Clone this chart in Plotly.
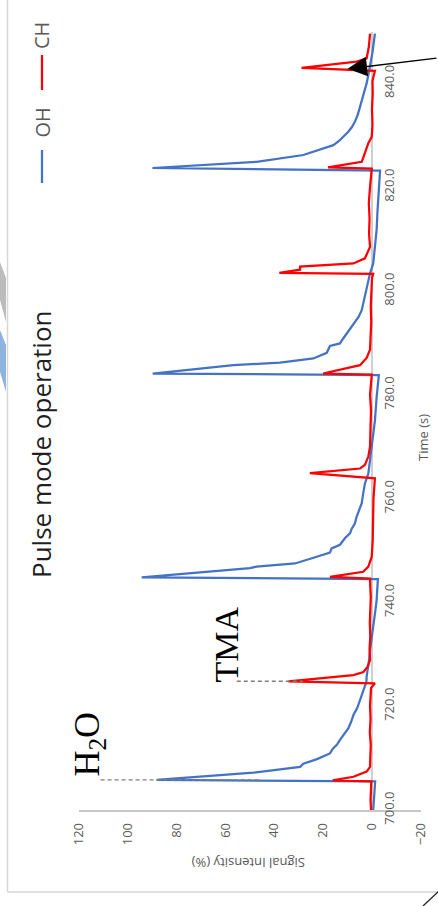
import plotly.graph_objects as go

# ---- measured signals (time in s, intensity in %) ----
oh_time = [
    700.0, 701.5, 703.0, 704.5, 705.5, 705.8, 707.2, 708.3, 708.9, 709.8,
    710.9, 711.8, 712.6, 713.5, 714.6, 715.7, 716.9, 718.3, 719.7, 721.2,
    722.4, 723.8, 724.7, 725.7, 727.5, 729.2, 730.8, 733.0, 735.3, 737.8,
    740.5, 742.8, 744.5, 744.8, 746.6, 746.9, 747.5, 748.8, 749.6, 750.4,
    751.1, 752.4, 753.3, 754.2, 755.2, 756.5, 758.1, 759.1, 761.0, 762.9,
    764.8, 767.4, 771.3, 775.0, 779.6, 783.2, 783.8,
    784.1, 785.7, 786.0, 786.2, 787.0, 788.1, 789.4, 789.9, 790.9, 791.8,
    792.8, 793.8, 795.0, 796.3, 797.6, 798.9, 800.2, 801.5, 803.4, 805.3,
    808.5, 811.8, 815.0, 818.2, 821.0, 823.2, 823.7, 824.9, 826.2, 826.8,
    827.4, 828.1, 828.9, 829.7, 830.7, 831.6, 832.6, 834.0, 835.5, 837.4,
    838.7, 840.0, 841.6, 843.2, 846.0, 849.6,
]
oh_signal = [
    -0.5, -0.7, -0.9, -1.1, -1.3, 88.1, 48.5, 29.4, 28.1, 22.5,
    17.2, 16.0, 14.3, 13.1, 11.3, 9.7, 8.6, 7.6, 6.0, 4.9,
    3.9, 2.9, 2.3, 2.2, 1.5, 1.1, 0.8, 0.1, -0.5, -1.2,
    -1.9, -2.2, -2.4, 94.2, 49.9, 47.2, 31.5, 22.6, 17.2, 16.5,
    13.1, 11.0, 9.0, 8.3, 7.0, 6.3, 4.9, 4.2, 3.6, 2.9,
    1.5, 0.8, -0.5, -1.2, -1.9, -2.6, -2.8,
    89.7, 56.7, 45.0, 37.6, 24.0, 18.5, 17.2, 13.1, 11.7, 10.3,
    8.6, 7.0, 5.5, 4.2, 3.6, 2.9, 2.1, 1.5, 0.8, -0.5,
    -1.2, -1.9, -2.2, -2.6, -3.0, -3.3, 89.8, 47.2, 28.1, 24.0,
    20.0, 15.8, 13.5, 11.7, 9.7, 8.2, 7.0, 5.8, 4.9, 3.6,
    2.9, 2.2, 1.5, 0.8, -0.2, -1.2,
]

ch_time = [
    700.0, 702.0, 704.0, 705.5, 705.7, 706.4, 707.4, 708.3, 710.0, 712.5,
    715.0, 717.5, 720.0, 722.0, 723.5, 724.4, 724.8, 726.0, 726.6, 727.6,
    728.9, 731.0, 733.5, 736.0, 738.5, 741.0, 743.0, 744.6, 744.9, 745.9,
    746.9, 748.8, 752.0, 756.0, 760.0, 763.9, 764.9,
    765.8, 766.5, 768.1, 770.0, 774.0, 777.0, 780.0, 782.5, 783.9, 784.1,
    785.7, 787.1, 788.7, 791.0, 794.0, 797.0, 800.0, 802.5, 803.3, 803.5,
    804.1, 804.7, 805.3, 806.3, 808.5, 811.0, 814.0, 817.0, 820.0, 822.5,
    823.6, 823.8, 824.9, 825.8, 827.8, 828.5, 829.7, 832.0, 835.0, 838.0,
    840.5, 842.4, 843.0, 844.2, 844.8, 847.0, 849.6,
]
ch_signal = [
    0.4, 0.6, 0.4, 0.3, 16.1, 7.6, 2.2, 0.8, 0.7, 0.5,
    0.9, 0.6, 0.8, 0.5, 0.4, -1.2, 34.2, 7.6, 3.5, 1.8,
    0.8, 1.0, 0.7, 0.9, 0.6, 0.5, 0.7, 0.8, 17.2, 3.6,
    1.5, 0.1, -0.3, -0.5, -0.6, -1.2, 25.4,
    4.9, 2.9, 1.5, 0.8, 0.6, 0.4, 0.8, 0.5, 0.1, 20.0,
    4.9, 2.2, 0.8, 0.6, 0.3, 0.5, 0.2, 0.0, -0.5, 37.9,
    29.4, 29.4, 7.6, 2.9, 0.8, 1.2, 1.0, 1.3, 0.8, 0.5,
    0.1, 18.0, 4.2, 3.5, 2.2, 1.5, 0.1, -0.2, 0.0, -0.3,
    -0.2, -1.2, 28.8, 6.3, 2.2, 1.3, 0.8,
]

time_ticks = [700, 720, 740, 760, 780, 800, 820, 840]
signal_ticks = [120, 100, 80, 60, 40, 20, 0, -20]

OH_COLOR = "#4472C4"
CH_COLOR = "#FF0000"
GREY_TEXT = "#595959"

W, H = 438, 906


def px(x):
    return x / W


def py(y):
    return 1 - y / H


def peak(times, values, t_lo, t_hi):
    """Time and value of the highest point between t_lo and t_hi."""
    pts = [(v, t) for t, v in zip(times, values) if t_lo <= t <= t_hi]
    v, t = max(pts)
    return t, v


fig = go.Figure()
fig.add_trace(go.Scatter(x=oh_signal, y=oh_time, mode="lines", name="OH",
                         line=dict(color=OH_COLOR, width=2.25)))
fig.add_trace(go.Scatter(x=ch_signal, y=ch_time, mode="lines", name="CH",
                         line=dict(color=CH_COLOR, width=2.25)))

# pulses that the labels point at
h2o_t, h2o_v = peak(oh_time, oh_signal, 700, 715)
tma_t, tma_v = peak(ch_time, ch_signal, 720, 735)
last_t, last_v = peak(ch_time, ch_signal, 835, 850)

shapes = [
    # chart frame
    dict(type="line", xref="paper", yref="paper", x0=px(7.5), x1=px(7.5),
         y0=py(0), y1=py(892), line=dict(color="#d6d6d6", width=1.5)),
    dict(type="line", xref="paper", yref="paper", x0=px(7.5), x1=px(440),
         y0=py(892), y1=py(892), line=dict(color="#d6d6d6", width=1.5)),
    # leader lines to the pulse peaks
    dict(type="line", xref="x", yref="y", x0=111, x1=h2o_v - 42,
         y0=h2o_t, y1=h2o_t, line=dict(color="#7f7f7f", width=1.4, dash="4px,3px")),
    dict(type="line", xref="x", yref="y", x0=55.3, x1=tma_v - 6,
         y0=tma_t, y1=tma_t, line=dict(color="#7f7f7f", width=1.4, dash="4px,3px")),
    # legend keys
    dict(type="line", xref="paper", yref="paper", x0=px(42), x1=px(42),
         y0=py(183), y1=py(150), line=dict(color=OH_COLOR, width=2.25)),
    dict(type="line", xref="paper", yref="paper", x0=px(42), x1=px(42),
         y0=py(90), y1=py(55), line=dict(color=CH_COLOR, width=2.25)),
    # stray pointer at the lower right corner
    dict(type="line", xref="paper", yref="paper", x0=px(423), x1=px(440),
         y0=py(906), y1=py(890), line=dict(color="#222222", width=1.3)),
    # logo fragments at the left edge
    dict(type="path", xref="paper", yref="paper",
         path=f"M 0 {py(262)} L {px(6)} {py(278)} L {px(6)} {py(322)} L 0 {py(300)} Z",
         fillcolor="#a6a6a6", line=dict(width=0), opacity=0.75),
    dict(type="path", xref="paper", yref="paper",
         path=f"M 0 {py(330)} L {px(6)} {py(345)} L {px(6)} {py(392)} L 0 {py(372)} Z",
         fillcolor="#6a9ad6", line=dict(width=0), opacity=0.75),
]


def rotated_label(text, x, y, size, family, color, angle=-90):
    return dict(text=text, xref="paper", yref="paper", x=px(x), y=py(y),
                xanchor="center", yanchor="middle", textangle=angle,
                showarrow=False, font=dict(family=family, size=size, color=color))


annotations = [
    rotated_label("Pulse mode operation", 41, 444, 26, "Open Sans", "#1f1f1f"),
    rotated_label("Signal Intensity (%)", 249, 863, 13, "Open Sans", GREY_TEXT, 180),
    rotated_label("Time (s)", 423, 438, 13, "Open Sans", GREY_TEXT),
    rotated_label("OH", 42, 122.5, 20, "Open Sans", GREY_TEXT),
    rotated_label("CH", 42, 36, 20, "Open Sans", GREY_TEXT),
    rotated_label("H<sub>2</sub>O", 88.5, 744, 36, "Liberation Serif", "black"),
    rotated_label("TMA", 225.5, 645, 34, "Liberation Serif", "black"),
    dict(text="", xref="x", yref="y", x=10, y=last_t - 0.2,
         ax=112, ay=-11, showarrow=True, arrowhead=2, arrowsize=3,
         arrowwidth=1.3, arrowcolor="black"),
]

fig.update_layout(
    width=W, height=H,
    margin=dict(l=0, r=0, t=0, b=0),
    paper_bgcolor="white", plot_bgcolor="white",
    showlegend=False,
    shapes=shapes,
    annotations=annotations,
    xaxis=dict(
        range=[120, -20], domain=[px(78.6), px(420.9)],
        tickvals=signal_ticks, tickangle=-90,
        tickfont=dict(family="Open Sans", size=13, color=GREY_TEXT),
        showline=True, linecolor="#c8c8c8", linewidth=1.5,
        showgrid=False, zeroline=True, zerolinecolor="#cfcfcf", zerolinewidth=1.5,
        ticks="", automargin=False, ticklabelstandoff=6,
    ),
    yaxis=dict(
        range=[700, 850], domain=[py(810), py(31.5)],
        tickvals=time_ticks, tickformat=".1f", tickangle=-90,
        tickfont=dict(family="Open Sans", size=13, color=GREY_TEXT),
        anchor="free", position=px(372), side="right",
        showline=False, showgrid=False, zeroline=False,
        ticks="", automargin=False, ticklabelstandoff=8,
    ),
)

fig.write_html("out.html")
